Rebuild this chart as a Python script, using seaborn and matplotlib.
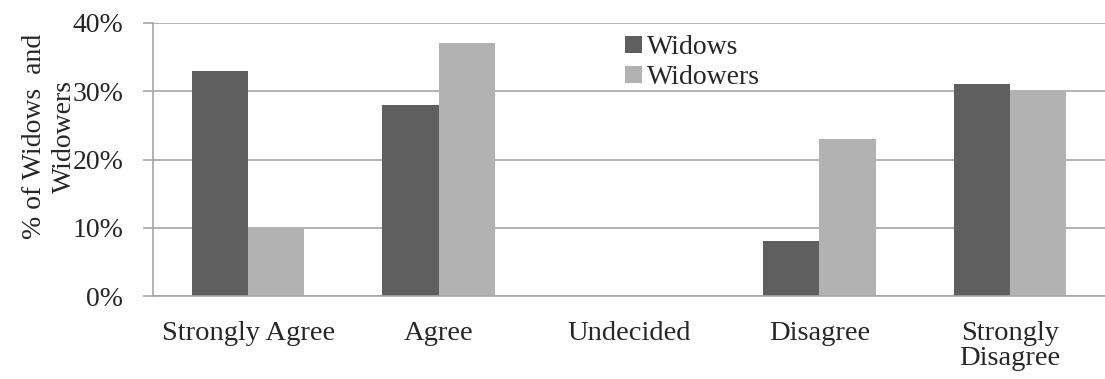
import matplotlib
matplotlib.use("Agg")
import matplotlib.pyplot as plt
import seaborn as sns
import pandas as pd
from matplotlib.ticker import MultipleLocator, FuncFormatter

categories = ["Strongly Agree", "Agree", "Undecided", "Disagree", "Strongly\nDisagree"]
widows = [33, 28, 0, 8, 31]
widowers = [10, 37, 0, 23, 30]
series = ["Widows", "Widowers"]
colors = ["#5f5f5f", "#b2b2b2"]

df = pd.DataFrame({
    "category": categories * 2,
    "group": [series[0]] * len(categories) + [series[1]] * len(categories),
    "value": widows + widowers,
})

sns.set_theme(style="white")
plt.rcParams["font.family"] = "serif"
plt.rcParams["font.serif"] = ["Liberation Serif", "DejaVu Serif"]

fig = plt.figure(figsize=(11.05, 3.79), dpi=100)
ax = fig.add_axes([153 / 1105, 1 - 296 / 379, 952 / 1105, 273 / 379])

sns.barplot(data=df, x="category", y="value", hue="group", palette=colors,
            width=0.59, saturation=1, linewidth=0, ax=ax, legend=True)

ax.set_ylim(0, 40)
ax.set_xlim(-0.5, 4.5)
ax.yaxis.set_major_locator(MultipleLocator(10))
ax.yaxis.set_major_formatter(FuncFormatter(lambda v, p: f"{int(v)}%"))
ax.yaxis.grid(True, color="#a6a6a6", linewidth=1.2)
ax.set_axisbelow(True)

for s in ["top", "right"]:
    ax.spines[s].set_visible(False)
ax.spines["left"].set_color("#a6a6a6")
ax.spines["bottom"].set_color("#a6a6a6")
ax.spines["left"].set_linewidth(1.2)
ax.spines["bottom"].set_linewidth(1.2)

ax.tick_params(axis="y", left=True, length=7.5, width=1.2, color="#a6a6a6",
               labelsize=20, pad=14)
ax.tick_params(axis="x", bottom=False, labelsize=20.5, pad=12)
for t in ax.get_xticklabels():
    t.set_linespacing(1.02)

ax.set_xlabel("")
ax.set_ylabel("% of Widows  and\nWidowers", fontsize=20, linespacing=1.28)
ax.yaxis.set_label_coords(-0.08, 0.586)

leg = ax.legend(loc="upper left", bbox_to_anchor=(0.496, 0.955), frameon=False,
                fontsize=20, handlelength=0.6, handleheight=0.55,
                handletextpad=0.2, labelspacing=0.18, borderaxespad=0,
                borderpad=0)

fig.savefig("out.png", dpi=100)
